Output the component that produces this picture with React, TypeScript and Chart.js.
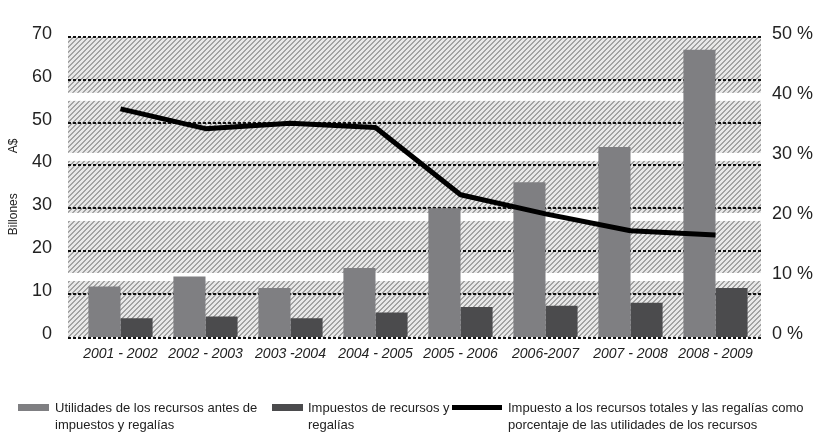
import React, { useEffect, useRef } from 'react';
import { Chart, registerables } from 'chart.js';

Chart.register(...registerables);

const categories = ['2001 - 2002', '2002 - 2003', '2003 -2004', '2004 - 2005', '2005 - 2006', '2006-2007', '2007 - 2008', '2008 - 2009'];
const utilidades = [11.8, 14.1, 11.4, 16.1, 30.0, 36.1, 44.3, 67.0];
const impuestos = [4.4, 4.8, 4.4, 5.7, 7.0, 7.3, 8.0, 11.4];
const porcentaje = [38.0, 34.7, 35.6, 34.9, 23.7, 20.5, 17.7, 17.0];

const leftMax = 70;
const leftStep = 10;
const rightMax = 50;
const rightStep = 10;

const legendUtilidades = ['Utilidades de los recursos antes de', 'impuestos y regalías'];
const legendImpuestos = ['Impuestos de recursos y', 'regalías'];
const legendPorcentaje = ['Impuesto a los recursos totales y las regalías como', 'porcentaje de las utilidades de los recursos'];

const lightGray = '#7f7f82';
const darkGray = '#4b4b4d';
const lineColor = '#000000';

const legendFont = '13px "Liberation Sans", Arial, sans-serif';

function makeHatch(ctx: CanvasRenderingContext2D) {
  const n = 5;
  const c = document.createElement('canvas');
  c.width = n;
  c.height = n;
  const g = c.getContext('2d')!;
  g.fillStyle = '#e8e8e8';
  g.fillRect(0, 0, n, n);
  g.fillStyle = '#a3a3a3';
  for (let i = 0; i < n; i++) {
    g.fillRect(i, n - 1 - i, 1, 1);
    g.fillRect(i, (n - i) % n, 1, 1);
  }
  return ctx.createPattern(c, 'repeat');
}

export default function App() {
  const ref = useRef<HTMLCanvasElement | null>(null);

  useEffect(() => {
    const canvas = ref.current!;
    const ctx0 = canvas.getContext('2d')!;
    const hatch = makeHatch(ctx0);

    const bgPlugin = {
      id: 'bgBands',
      beforeDatasetsDraw(chart: any) {
        const { ctx, chartArea, scales } = chart;
        const yR = scales.yR;
        const yL = scales.y;
        const x0 = chartArea.left - 10;
        const x1 = chartArea.right + 3;
        ctx.save();
        ctx.fillStyle = hatch;
        const nb = rightMax / rightStep;
        for (let k = 0; k < nb; k++) {
          const top = yR.getPixelForValue((k + 1) * rightStep) + (k < nb - 1 ? 4 : 0);
          const bot = yR.getPixelForValue(k * rightStep) - (k > 0 ? 4 : 0);
          ctx.fillRect(x0, top, x1 - x0, bot - top);
        }
        ctx.strokeStyle = '#111';
        ctx.lineWidth = 2;
        ctx.setLineDash([3, 2]);
        for (let v = leftStep; v <= leftMax; v += leftStep) {
          const y = Math.round(yL.getPixelForValue(v));
          ctx.beginPath();
          ctx.moveTo(x0, y);
          ctx.lineTo(x1, y);
          ctx.stroke();
        }
        ctx.restore();
      },
      afterDatasetsDraw(chart: any) {
        const { ctx, chartArea, scales } = chart;
        const y = Math.round(scales.y.getPixelForValue(0)) + 1;
        ctx.save();
        ctx.strokeStyle = '#111';
        ctx.lineWidth = 2;
        ctx.setLineDash([3, 2]);
        ctx.beginPath();
        ctx.moveTo(chartArea.left - 10, y);
        ctx.lineTo(chartArea.right + 3, y);
        ctx.stroke();
        ctx.restore();
      },
      afterDraw(chart: any) {
        const { ctx } = chart;
        ctx.save();
        ctx.font = legendFont;
        ctx.textBaseline = 'middle';
        ctx.textAlign = 'left';
        const y1 = 408;
        const y2 = 425;
        ctx.fillStyle = lightGray;
        ctx.fillRect(18, 404, 31, 7);
        ctx.fillStyle = '#222';
        ctx.fillText(legendUtilidades[0], 55, y1);
        ctx.fillText(legendUtilidades[1], 55, y2);
        ctx.fillStyle = darkGray;
        ctx.fillRect(272, 404, 31, 7);
        ctx.fillStyle = '#222';
        ctx.fillText(legendImpuestos[0], 308, y1);
        ctx.fillText(legendImpuestos[1], 308, y2);
        ctx.fillStyle = lineColor;
        ctx.fillRect(452, 405, 50, 5);
        ctx.fillStyle = '#222';
        ctx.fillText(legendPorcentaje[0], 508, y1);
        ctx.fillText(legendPorcentaje[1], 508, y2);
        ctx.restore();
      },
    };

    const chart = new Chart(canvas, {
      type: 'bar',
      data: {
        labels: categories,
        datasets: [
          {
            type: 'line',
            label: legendPorcentaje.join(' '),
            data: porcentaje,
            yAxisID: 'yR',
            borderColor: lineColor,
            borderWidth: 5,
            pointRadius: 0,
            tension: 0,
            fill: false,
            order: 0,
            borderJoinStyle: 'round',
          } as any,
          {
            type: 'bar',
            label: legendUtilidades.join(' '),
            data: utilidades,
            yAxisID: 'y',
            backgroundColor: lightGray,
            barPercentage: 1,
            categoryPercentage: 0.755,
            order: 1,
          },
          {
            type: 'bar',
            label: legendImpuestos.join(' '),
            data: impuestos,
            yAxisID: 'y',
            backgroundColor: darkGray,
            barPercentage: 1,
            categoryPercentage: 0.755,
            order: 1,
          },
        ],
      },
      options: {
        responsive: false,
        animation: false,
        layout: { padding: { top: 29, bottom: 0, left: 0, right: 0 } },
        plugins: {
          legend: { display: false },
          tooltip: { enabled: false },
        },
        scales: {
          x: {
            grid: { display: false, drawTicks: false },
            border: { display: false },
            ticks: {
              color: '#222',
              padding: 9,
              maxRotation: 0,
              autoSkip: false,
              font: { family: '"Liberation Sans", Arial, sans-serif', size: 14, style: 'italic' },
            },
            afterFit(scale: any) {
              scale.height = 95;
            },
          },
          y: {
            position: 'left',
            min: 0,
            max: leftMax,
            grid: { display: false, drawTicks: false },
            border: { display: false },
            ticks: {
              stepSize: leftStep,
              color: '#222',
              padding: 26,
              labelOffset: -3,
              font: { family: '"Liberation Sans", Arial, sans-serif', size: 18 },
            },
            title: {
              display: true,
              text: 'Billones            A$',
              color: '#222',
              font: { family: '"Liberation Sans", Arial, sans-serif', size: 12 },
              padding: { top: 6, bottom: 0 },
            },
            afterFit(scale: any) {
              scale.width = 78;
            },
          },
          yR: {
            position: 'right',
            min: 0,
            max: rightMax,
            grid: { display: false, drawTicks: false },
            border: { display: false },
            ticks: {
              stepSize: rightStep,
              color: '#222',
              padding: 14,
              labelOffset: -3,
              font: { family: '"Liberation Sans", Arial, sans-serif', size: 18 },
              callback: (v: any) => v + ' %',
            },
            afterFit(scale: any) {
              scale.width = 56;
            },
          },
        },
      },
      plugins: [bgPlugin],
    });
    return () => chart.destroy();
  }, []);

  return (
    <div style={{ position: 'absolute', left: 0, top: 0, width: 814, height: 432, background: '#fff' }}>
      <canvas ref={ref} width={814} height={432} style={{ display: 'block', width: 814, height: 432 }} />
    </div>
  );
}
